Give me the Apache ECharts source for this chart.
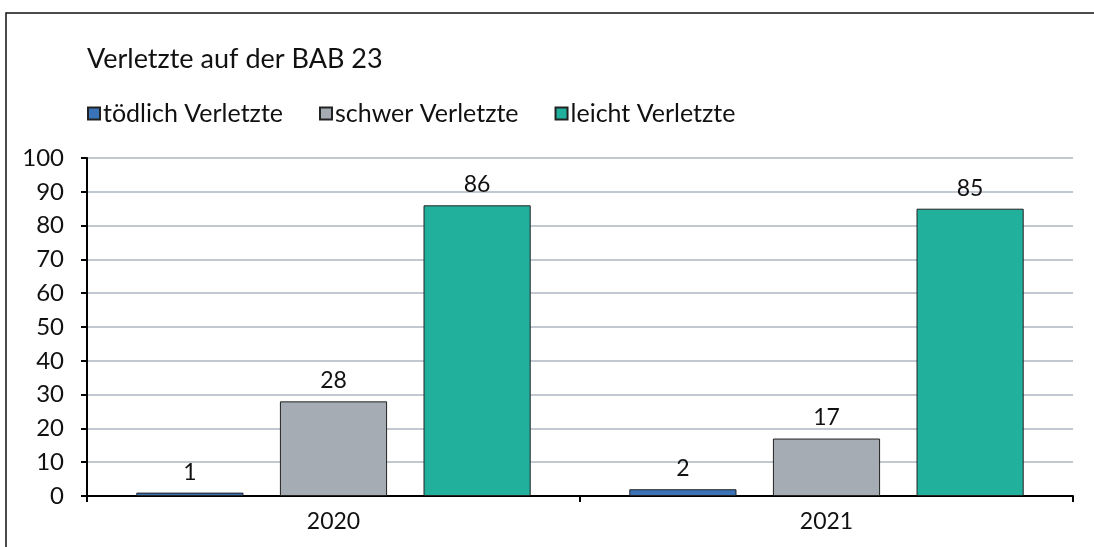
<!DOCTYPE html>
<html>
<head>
<meta charset="utf-8">
<script src="https://cdn.jsdelivr.net/npm/echarts@6/dist/echarts.min.js"></script>
<style>
  html, body { margin: 0; padding: 0; background: #fff; }
  #chart { width: 1094px; height: 547px; }
</style>
</head>
<body>
<div id="chart"></div>
<script>
const years = ['2020', '2021']
const toedlich = [1, 2]
const schwer = [28, 17]
const leicht = [86, 85]

const font = 'Lato, "Noto Sans", sans-serif'
const chart = echarts.init(document.getElementById('chart'))

const barSeries = (name, data, color) => ({
  name: name,
  type: 'bar',
  data: data,
  barGap: '34%',
  barCategoryGap: '20%',
  itemStyle: { color: color, borderColor: '#222', borderWidth: 1 },
  label: {
    show: true,
    position: 'top',
    distance: 9,
    color: '#111',
    fontSize: 23,
    fontFamily: font
  }
})

chart.setOption({
  animation: false,
  title: {
    text: 'Verletzte auf der BAB 23',
    left: 82,
    top: 41,
    textStyle: { fontFamily: font, fontSize: 27, fontWeight: 'normal', color: '#111' }
  },
  legend: {
    left: 82,
    top: 96,
    itemWidth: 12,
    itemHeight: 12,
    itemGap: 36,
    icon: 'rect',
    textStyle: { fontFamily: font, fontSize: 25, color: '#111', padding: [0, 0, 0, -2] }
  },
  graphic: [{
    type: 'rect',
    shape: { x: 6, y: 13, width: 1200, height: 600 },
    style: { fill: 'none', stroke: '#111', lineWidth: 1.5 }
  }],
  grid: { left: 87, right: 21, top: 158, bottom: 51 },
  xAxis: {
    type: 'category',
    data: years,
    axisLine: { lineStyle: { color: '#000', width: 2 } },
    axisTick: { show: true, length: 6, lineStyle: { color: '#000', width: 2 } },
    axisLabel: { fontFamily: font, fontSize: 23, color: '#111', margin: 14 }
  },
  yAxis: {
    type: 'value',
    min: 0,
    max: 100,
    interval: 10,
    axisLine: { show: true, lineStyle: { color: '#000', width: 2 } },
    axisTick: { show: true, length: 6, lineStyle: { color: '#000', width: 2 } },
    axisLabel: { fontFamily: font, fontSize: 24, color: '#111', margin: 23 },
    splitLine: { lineStyle: { color: '#aeb6c1', width: 1.5 } }
  },
  series: [
    barSeries('tödlich Verletzte', toedlich, '#3a73b8'),
    barSeries('schwer Verletzte', schwer, '#a6acb4'),
    barSeries('leicht Verletzte', leicht, '#20b09c')
  ]
})
window.addEventListener('resize', function () {
  chart && chart.resize()
})
</script>
</body>
</html>
